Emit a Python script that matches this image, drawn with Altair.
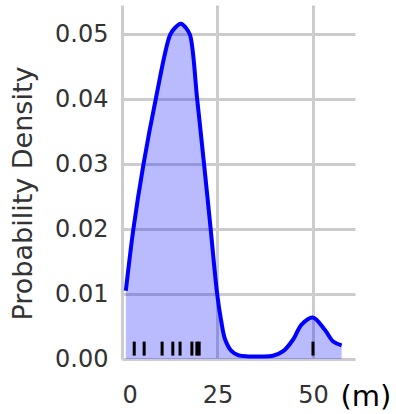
import altair as alt
import pandas as pd

# curve (x in m, density)
curve_x = [1.0, 3.0, 5.6, 8.8, 12.6, 13.9, 15.4, 16.7, 17.8, 19.7, 21.5, 23.2, 24.9,
           25.9, 27.0, 28.7, 30.4, 33.0, 36.0, 39.5, 42.2, 44.8, 47.0, 49.9, 53.1, 55.3, 57.5]
curve_y = [0.0105, 0.0201, 0.0299, 0.0399, 0.0499, 0.0510, 0.0516, 0.0510, 0.0499,
           0.0399, 0.0299, 0.0201, 0.0101, 0.0061, 0.0030, 0.0012, 0.0006, 0.0004, 0.0004,
           0.0005, 0.0012, 0.0030, 0.0053, 0.0064, 0.0045, 0.0027, 0.0021]

rug_x = [3.2, 5.8, 10.5, 13.3, 15.2, 18.3, 19.6, 20.2, 50.0]

x_ticks = [0, 25, 50]
y_ticks = [0.0, 0.01, 0.02, 0.03, 0.04, 0.05]

curve = pd.DataFrame({"x": curve_x, "y": curve_y})
rug = pd.DataFrame({"x": rug_x})

FONT = "DejaVu Sans"
W, H = 233, 354

xscale = alt.Scale(domain=[0, 61], nice=False, zero=False)
yscale = alt.Scale(domain=[0, 0.0545], nice=False)

xaxis = alt.Axis(values=x_ticks, title="(m)", grid=True, gridColor="#cccccc", gridWidth=3,
                 domain=False, ticks=False, labelFont=FONT, labelFontSize=24,
                 labelColor="#333333", labelPadding=24,
                 titleFont=FONT, titleFontSize=29, titleFontWeight="normal", titleColor="#000000",
                 titleAlign="left", titleBaseline="middle", titleX=218, titleY=37)
yaxis = alt.Axis(values=y_ticks, format=".2f", title="Probability Density", grid=True,
                 gridColor="#cccccc", gridWidth=3, domain=False, ticks=False,
                 labelFont=FONT, labelFontSize=24, labelColor="#333333", labelPadding=14,
                 titleFont=FONT, titleFontSize=27, titleFontWeight="normal", titleColor="#333333",
                 titleAngle=270, titleAlign="center", titleBaseline="middle", titleX=-99, titleY=188)

base = alt.Chart(curve)
area = base.mark_area(color="#0000ff", opacity=0.27, interpolate="catmull-rom").encode(
    x=alt.X("x:Q", scale=xscale, axis=xaxis),
    y=alt.Y("y:Q", scale=yscale, axis=yaxis),
)
line = base.mark_line(color="#0000ff", strokeWidth=4, interpolate="catmull-rom").encode(
    x=alt.X("x:Q", scale=xscale),
    y=alt.Y("y:Q", scale=yscale),
)
ticks = alt.Chart(rug).mark_tick(orient="vertical", color="black", opacity=1, size=14, thickness=3).encode(
    x=alt.X("x:Q", scale=xscale),
    y=alt.datum(0.0016),
)

chart = (area + line + ticks).properties(
    width=W, height=H,
    autosize=alt.AutoSizeParams(type="none"),
    padding={"left": 122, "top": 5, "right": 41, "bottom": 55},
).configure_view(stroke=None)

chart.save("out.html", embed_options={"renderer": "svg", "actions": False})
